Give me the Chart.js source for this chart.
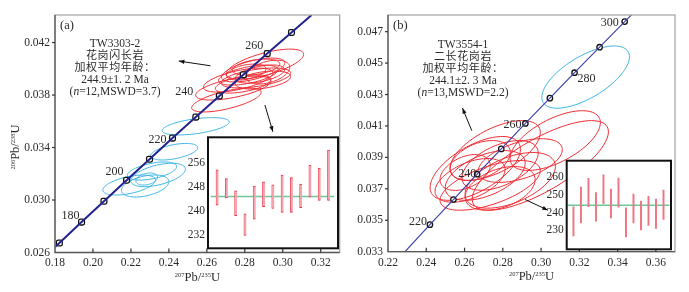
<!DOCTYPE html>
<html>
<head>
<meta charset="utf-8">
<script src="https://cdn.jsdelivr.net/npm/chart.js@4.4.1/dist/chart.umd.min.js"></script>
<style>
body{margin:0;background:#fff;width:689px;height:292px;position:relative;overflow:hidden;
  font-family:"Liberation Serif","Noto Sans CJK SC",serif;color:#2b2b2b}
canvas{position:absolute}
.note{position:absolute;width:170px;text-align:center;font-size:11.5px;line-height:12.1px;white-space:nowrap}
.cn{font-size:11px;letter-spacing:0.6px}
.tag{position:absolute;font-size:12.5px}
</style>
</head>
<body>
<canvas id="mainA" style="left:0;top:0" width="345" height="292"></canvas>
<canvas id="mainB" style="left:345px;top:0" width="344" height="292"></canvas>
<canvas id="insetA" style="left:185px;top:125px" width="156" height="135"></canvas>
<canvas id="insetB" style="left:545px;top:149px" width="135" height="113"></canvas>

<div class="tag" style="left:60px;top:18px">(a)</div>
<div class="tag" style="left:393px;top:18px">(b)</div>
<div class="note" style="left:30px;top:37px">TW3303-2<br><span class="cn">花岗闪长岩</span><br><span class="cn">加权平均年龄：</span><br>244.9±1. 2 Ma<br>(<i>n</i>=12,MSWD=3.7)</div>
<div class="note" style="left:378px;top:38px">TW3554-1<br><span class="cn">二长花岗岩</span><br><span class="cn">加权平均年龄：</span><br>244.1±2. 3 Ma<br>(<i>n</i>=13,MSWD=2.2)</div>

<script>
// concordia marks (Ma) and their 207Pb/235U, 206Pb/238U positions
var agesA = [170, 180, 190, 200, 210, 220, 230, 240, 250, 260, 270];
var concA_x = [0.1823, 0.1940, 0.2058, 0.2177, 0.2298, 0.2419, 0.2542, 0.2666, 0.2792, 0.2918, 0.3046];
var concA_y = [0.02672, 0.02832, 0.02991, 0.03151, 0.03311, 0.03472, 0.03632, 0.03793, 0.03954, 0.04116, 0.04277];
var concA_ends = [[0.1800, 0.02641], [0.3152, 0.0441]];
var agesB = [220, 230, 240, 250, 260, 270, 280, 290, 300];
var concB_x = [0.2419, 0.2542, 0.2666, 0.2792, 0.2918, 0.3046, 0.3175, 0.3306, 0.3437];
var concB_y = [0.03472, 0.03632, 0.03793, 0.03954, 0.04116, 0.04277, 0.04439, 0.04601, 0.04764];
var concB_ends = [[0.2289, 0.0330], [0.3475, 0.0481]];
var labelAgesA = [180, 200, 220, 240, 260];
var labelAgesB = [220, 240, 260, 280, 300];

// error ellipses: [x, y, half width x, half height y, rho]
var redA = [
  [0.2906, 0.04036, 0.0204, 0.00114, 0.65],
  [0.2844, 0.03991, 0.0167, 0.00091, 0.6],
  [0.2818, 0.03952, 0.0157, 0.00076, 0.55],
  [0.2859, 0.03930, 0.0183, 0.00076, 0.5],
  [0.2765, 0.03914, 0.0183, 0.00091, 0.6],
  [0.2880, 0.03960, 0.0130, 0.00069, 0.5],
  [0.2807, 0.03975, 0.0104, 0.00061, 0.4],
  [0.2739, 0.03853, 0.0198, 0.00091, 0.6],
  [0.2703, 0.03762, 0.0183, 0.00091, 0.65],
  [0.2922, 0.03975, 0.0115, 0.00091, 0.4],
  [0.2791, 0.03884, 0.0146, 0.00069, 0.5],
  [0.2859, 0.04013, 0.0125, 0.00061, 0.4],
  [0.2896, 0.03914, 0.0146, 0.00069, 0.4]
];
var blueA = [
  [0.2541, 0.03562, 0.0177, 0.00066, 0.5],
  [0.2428, 0.03368, 0.0124, 0.00063, 0.5],
  [0.2311, 0.03221, 0.0130, 0.00069, 0.5],
  [0.2343, 0.03191, 0.0144, 0.00089, 0.5],
  [0.2191, 0.03114, 0.0139, 0.00076, 0.5],
  [0.2275, 0.03107, 0.0125, 0.00084, 0.4],
  [0.2283, 0.03160, 0.0057, 0.00046, 0.3]
];
var redB = [
  [0.2760, 0.03944, 0.0236, 0.00190, 0.6],
  [0.2996, 0.03849, 0.0356, 0.00285, 0.75],
  [0.2656, 0.03830, 0.0236, 0.00203, 0.6],
  [0.2708, 0.03785, 0.0209, 0.00158, 0.5],
  [0.2629, 0.03754, 0.0183, 0.00139, 0.5],
  [0.2786, 0.03849, 0.0199, 0.00158, 0.5],
  [0.2839, 0.03754, 0.0236, 0.00177, 0.5],
  [0.2682, 0.03880, 0.0157, 0.00127, 0.4],
  [0.2891, 0.03880, 0.0220, 0.00139, 0.5],
  [0.2603, 0.03804, 0.0131, 0.00114, 0.4],
  [0.2734, 0.03722, 0.0262, 0.00158, 0.6],
  [0.3074, 0.04007, 0.0236, 0.00190, 0.6],
  [0.2786, 0.03703, 0.0183, 0.00139, 0.4]
];
var blueB = [
  [0.3233, 0.04411, 0.0229, 0.00198, 0.65]
];

// weighted mean insets (Ma)
var insetA_lo = [242.0, 244.4, 238.5, 231.9, 237.3, 241.5, 240.9, 239.6, 239.6, 241.2, 244.7, 243.6, 243.6];
var insetA_hi = [253.8, 250.9, 246.8, 239.1, 248.4, 249.8, 248.8, 252.1, 251.2, 249.1, 255.4, 254.4, 260.4];
var meanA = 244.9;
var insetB_lo = [226.8, 234.2, 243.3, 235.1, 245.0, 237.0, 243.1, 226.2, 234.2, 230.2, 232.8, 231.1, 236.1];
var insetB_hi = [243.3, 254.5, 259.4, 251.4, 261.4, 253.3, 259.6, 242.7, 250.5, 246.5, 249.2, 247.6, 252.7];
var meanB = 244.1;

// tick labels
var xTicksA = [0.18, 0.20, 0.22, 0.24, 0.26, 0.28, 0.30, 0.32];
var yTicksA = [0.026, 0.030, 0.034, 0.038, 0.042];
var xTicksB = [0.22, 0.24, 0.26, 0.28, 0.30, 0.32, 0.34, 0.36];
var yTicksB = [0.033, 0.035, 0.037, 0.039, 0.041, 0.043, 0.045, 0.047];
var insetTicksA = [232, 240, 248, 256];
var insetTicksB = [230, 240, 250, 260];

var SERIF = '"Liberation Serif", "Times New Roman", serif';
var TXT = '#2b2b2b';

function drawIso(ctx, parts, cx, cy) {
  var w = 0;
  parts.forEach(function(p) {
    ctx.font = (p[1] ? '6.5px ' : '12.5px ') + SERIF;
    w += ctx.measureText(p[0]).width;
  });
  var x = cx - w / 2;
  ctx.textAlign = 'left';
  ctx.textBaseline = 'alphabetic';
  parts.forEach(function(p) {
    ctx.font = (p[1] ? '6.5px ' : '12.5px ') + SERIF;
    ctx.fillText(p[0], x, p[1] ? cy : cy + 4);
    x += ctx.measureText(p[0]).width;
  });
}

function arrow(ctx, x0, y0, x1, y1) {
  var ang = Math.atan2(y1 - y0, x1 - x0);
  ctx.beginPath();
  ctx.moveTo(x0, y0);
  ctx.lineTo(x1, y1);
  ctx.stroke();
  ctx.beginPath();
  ctx.moveTo(x1, y1);
  ctx.lineTo(x1 - 6 * Math.cos(ang - 0.35), y1 - 6 * Math.sin(ang - 0.35));
  ctx.lineTo(x1 - 6 * Math.cos(ang + 0.35), y1 - 6 * Math.sin(ang + 0.35));
  ctx.closePath();
  ctx.fill();
}

function panelDeco(cfg) {
  return {
    id: 'deco',
    beforeDatasetsDraw: function(chart) {
      var ctx = chart.ctx, a = chart.chartArea, sx = chart.scales.x, sy = chart.scales.y;
      ctx.save();
      ctx.beginPath();
      ctx.rect(a.left, a.top, a.right - a.left, a.bottom - a.top);
      ctx.clip();
      cfg.ellipses.forEach(function(g) {
        ctx.strokeStyle = g.color;
        ctx.lineWidth = 1;
        g.rows.forEach(function(e) {
          var k = Math.sqrt(1 - e[4] * e[4]);
          ctx.beginPath();
          for (var i = 0; i <= 96; i++) {
            var t = i / 96 * 2 * Math.PI;
            var X = sx.getPixelForValue(e[0] + e[2] * Math.cos(t));
            var Y = sy.getPixelForValue(e[1] + e[3] * (e[4] * Math.cos(t) + k * Math.sin(t)));
            if (i === 0) ctx.moveTo(X, Y); else ctx.lineTo(X, Y);
          }
          ctx.stroke();
        });
      });
      ctx.restore();
    },
    afterDraw: function(chart) {
      var ctx = chart.ctx, a = chart.chartArea, sx = chart.scales.x, sy = chart.scales.y;
      ctx.save();
      // frame
      ctx.strokeStyle = '#a0a0a0';
      ctx.lineWidth = 1.2;
      ctx.strokeRect(a.left, a.top, a.right - a.left, a.bottom - a.top);
      ctx.strokeStyle = '#5a5a5a';
      ctx.lineWidth = 1.3;
      ctx.beginPath();
      ctx.moveTo(a.left, a.top);
      ctx.lineTo(a.left, a.bottom);
      ctx.lineTo(a.right, a.bottom);
      ctx.stroke();
      // tick marks
      ctx.strokeStyle = '#333';
      ctx.lineWidth = 1.2;
      cfg.xTicks.forEach(function(v) {
        var x = sx.getPixelForValue(v);
        if (x - a.left < 2) return;
        ctx.beginPath(); ctx.moveTo(x, a.bottom); ctx.lineTo(x, a.bottom - 4); ctx.stroke();
      });
      cfg.yTicks.forEach(function(v) {
        var y = sy.getPixelForValue(v);
        if (a.bottom - y < 2) return;
        ctx.beginPath(); ctx.moveTo(a.left - 3, y); ctx.lineTo(a.left, y); ctx.stroke();
      });
      // age labels on the concordia
      ctx.fillStyle = TXT;
      ctx.font = '12px ' + SERIF;
      ctx.textAlign = 'center';
      ctx.textBaseline = 'middle';
      cfg.labelAges.forEach(function(age) {
        var i = cfg.ages.indexOf(age);
        var off = cfg.labelOffsets[age];
        ctx.fillText(String(age), sx.getPixelForValue(cfg.cx[i]) + off[0], sy.getPixelForValue(cfg.cy[i]) + off[1]);
      });
      // arrows
      ctx.strokeStyle = '#111';
      ctx.fillStyle = '#111';
      ctx.lineWidth = 1;
      cfg.arrows.forEach(function(r) {
        arrow(ctx, sx.getPixelForValue(r[0]), sy.getPixelForValue(r[1]), sx.getPixelForValue(r[2]), sy.getPixelForValue(r[3]));
      });
      // axis titles
      ctx.fillStyle = TXT;
      drawIso(ctx, [['207', true], ['Pb/', false], ['235', true], ['U', false]], (a.left + a.right) / 2, a.bottom + 24);
      if (cfg.yTitle) {
        ctx.translate(cfg.yTitle[0], cfg.yTitle[1]);
        ctx.rotate(-Math.PI / 2);
        drawIso(ctx, [['206', true], ['Pb/', false], ['238', true], ['U', false]], 0, 0);
      }
      ctx.restore();
    }
  };
}

function mainChart(id, cfg) {
  var line = [{x: cfg.ends[0][0], y: cfg.ends[0][1]}];
  cfg.cx.forEach(function(v, i) { line.push({x: v, y: cfg.cy[i]}); });
  line.push({x: cfg.ends[1][0], y: cfg.ends[1][1]});
  var marks = cfg.cx.map(function(v, i) { return {x: v, y: cfg.cy[i]}; });
  return new Chart(document.getElementById(id), {
    type: 'scatter',
    data: {
      datasets: [
        {type: 'line', data: line, borderColor: cfg.lineColor, borderWidth: cfg.lineWidth, pointRadius: 0, tension: 0},
        {type: 'scatter', data: marks, pointStyle: cfg.marker, pointRadius: cfg.markerSize,
         borderColor: '#111', borderWidth: 1.3, backgroundColor: '#fff'}
      ]
    },
    options: {
      responsive: false,
      animation: false,
      events: [],
      layout: {padding: cfg.padding},
      plugins: {legend: {display: false}, tooltip: {enabled: false}},
      scales: {
        x: {
          type: 'linear', min: cfg.xRange[0], max: cfg.xRange[1],
          afterBuildTicks: function(s) { s.ticks = cfg.xTicks.map(function(v) { return {value: v}; }); },
          afterFit: function(s) { s.height = cfg.xAxisH; },
          grid: {display: false, drawTicks: false}, border: {display: false},
          ticks: {autoSkip: false, maxRotation: 0, padding: 4, color: TXT, font: {family: SERIF, size: 11.5},
                  callback: function(v) { return Number(v).toFixed(2); }}
        },
        y: {
          type: 'linear', min: cfg.yRange[0], max: cfg.yRange[1],
          afterBuildTicks: function(s) { s.ticks = cfg.yTicks.map(function(v) { return {value: v}; }); },
          afterFit: function(s) { s.width = cfg.yAxisW; },
          grid: {display: false, drawTicks: false}, border: {display: false},
          ticks: {autoSkip: false, padding: 5, color: TXT, font: {family: SERIF, size: 11.5},
                  callback: function(v) { return Number(v).toFixed(3); }}
        }
      }
    },
    plugins: [panelDeco(cfg)]
  });
}

function insetChart(id, lo, hi, mean, cfg) {
  var bars = lo.map(function(v, i) { return {x: i + 1, y: [v, hi[i]]}; });
  return new Chart(document.getElementById(id), {
    type: 'bar',
    data: {
      datasets: [
        {type: 'bar', data: bars, backgroundColor: cfg.barFill, borderColor: '#e8303f',
         borderWidth: cfg.barBorder, borderSkipped: false, barThickness: cfg.barW},
        {type: 'line', data: [{x: cfg.meanSpan[0], y: mean}, {x: cfg.meanSpan[1], y: mean}],
         borderColor: '#6fc897', borderWidth: 1.5, pointRadius: 0}
      ]
    },
    options: {
      responsive: false,
      animation: false,
      events: [],
      layout: {padding: cfg.padding},
      plugins: {legend: {display: false}, tooltip: {enabled: false}},
      scales: {
        x: {type: 'linear', display: false, offset: false, min: cfg.xRange[0], max: cfg.xRange[1]},
        y: {
          type: 'linear', min: cfg.yRange[0], max: cfg.yRange[1],
          afterBuildTicks: function(s) { s.ticks = cfg.ticks.map(function(v) { return {value: v}; }); },
          afterFit: function(s) { s.width = cfg.yAxisW; },
          grid: {display: false, drawTicks: false}, border: {display: false},
          ticks: {autoSkip: false, padding: 3, color: TXT, font: {family: SERIF, size: 11.5}}
        }
      }
    },
    plugins: [{
      id: 'box',
      beforeDatasetsDraw: function(chart) {
        var a = chart.chartArea;
        chart.ctx.save();
        chart.ctx.fillStyle = '#fff';
        chart.ctx.fillRect(a.left, a.top, a.right - a.left, a.bottom - a.top);
        chart.ctx.restore();
      },
      afterDraw: function(chart) {
        var a = chart.chartArea, ctx = chart.ctx;
        ctx.save();
        ctx.strokeStyle = '#111';
        ctx.lineWidth = 2;
        ctx.strokeRect(a.left, a.top, a.right - a.left, a.bottom - a.top);
        ctx.restore();
      }
    }]
  });
}

mainChart('mainA', {
  ages: agesA, cx: concA_x, cy: concA_y, ends: concA_ends, labelAges: labelAgesA,
  labelOffsets: {180: [-11, -6], 200: [-12, -8], 220: [-15, 2], 240: [-35, -4], 260: [-13, -8]},
  ellipses: [{color: '#ee2a32', rows: redA}, {color: '#3ab4e6', rows: blueA}],
  arrows: [[0.2619, 0.04023, 0.2452, 0.04059], [0.2906, 0.03724, 0.2948, 0.03520]],
  xRange: [0.18, 0.33], yRange: [0.026, 0.0441], xTicks: xTicksA, yTicks: yTicksA,
  padding: {left: 0, top: 15, right: 2.3, bottom: 0}, xAxisH: 39.5, yAxisW: 55,
  lineColor: '#23238f', lineWidth: 2, marker: 'rectRounded', markerSize: 3.4,
  yTitle: [15, 147]
});

mainChart('mainB', {
  ages: agesB, cx: concB_x, cy: concB_y, ends: concB_ends, labelAges: labelAgesB,
  labelOffsets: {220: [-12, -3], 240: [-10, 0], 260: [-13, 1], 280: [12, 6], 300: [-15, 1]},
  ellipses: [{color: '#ee2a32', rows: redB}, {color: '#3ab4e6', rows: blueB}],
  arrows: [[0.2638, 0.04070, 0.2589, 0.04214], [0.2917, 0.03632, 0.3036, 0.03564]],
  xRange: [0.22, 0.370], yRange: [0.033, 0.04806], xTicks: xTicksB, yTicks: yTicksB,
  padding: {left: 0, top: 15, right: 14, bottom: 0}, xAxisH: 40.3, yAxisW: 43,
  lineColor: '#3a3aa8', lineWidth: 1.1, marker: 'circle', markerSize: 2.7,
  yTitle: null
});

insetChart('insetA', insetA_lo, insetA_hi, meanA, {
  xRange: [0, 14], yRange: [227.6, 264.7], ticks: insetTicksA, meanSpan: [0.3, 13.6],
  padding: {left: 0, top: 12.3, right: 3, bottom: 11.7}, yAxisW: 23,
  barFill: '#f6a3af', barBorder: {top: 1, bottom: 1, left: 0.6, right: 0}, barW: 2.5
});

insetChart('insetB', insetB_lo, insetB_hi, meanB, {
  xRange: [0.1, 14], yRange: [219.2, 269.4], ticks: insetTicksB, meanSpan: [0.2, 13.8],
  padding: {left: 0, top: 11.7, right: 9, bottom: 12.7}, yAxisW: 21.7,
  barFill: '#f07584', barBorder: 0, barW: 1.3
});
</script>
</body>
</html>
